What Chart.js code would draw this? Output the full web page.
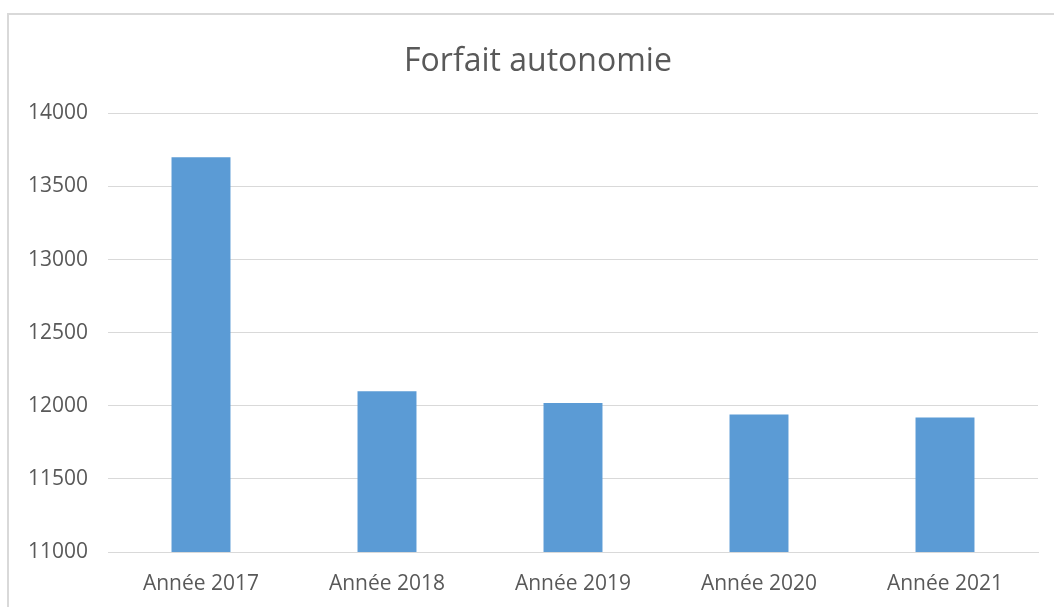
<!DOCTYPE html>
<html>
<head>
<meta charset="utf-8">
<script src="https://cdn.jsdelivr.net/npm/chart.js@4/dist/chart.umd.min.js"></script>
<style>
  html, body { margin: 0; padding: 0; background: #fff; overflow: hidden; }
  #frame { position: absolute; left: 7px; top: 13px; width: 1100px; height: 700px; border: 2px solid #d9d9d9; box-sizing: border-box; }
  #wrap { position: absolute; left: 0; top: 0; width: 1054px; height: 607px; }
</style>
</head>
<body>
<div id="frame"></div>
<div id="wrap"><canvas id="c" width="1054" height="607"></canvas></div>
<script>
const chartTitle = "Forfait autonomie";
const categories = ["Année 2017", "Année 2018", "Année 2019", "Année 2020", "Année 2021"];
const values = [13700, 12100, 12020, 11940, 11920];
const yMin = 11000, yMax = 14000, yStep = 500;

const textColor = "#595959";
const fontFamily = "'Open Sans', 'Liberation Sans', sans-serif";

const shiftTitle = {
  id: 'shiftTitle',
  afterLayout(chart) {
    const t = chart.titleBlock;
    if (t) { t.left += 9; t.right += 9; }
  }
};

new Chart(document.getElementById('c'), {
  type: 'bar',
  data: {
    labels: categories,
    datasets: [{
      data: values,
      backgroundColor: '#5b9bd5',
      borderWidth: 0,
      barPercentage: 0.317,
      categoryPercentage: 1.0
    }]
  },
  plugins: [shiftTitle],
  options: {
    responsive: false,
    animation: false,
    layout: { padding: { left: 20, right: 16, top: 0, bottom: 0 } },
    plugins: {
      legend: { display: false },
      tooltip: { enabled: false },
      title: {
        display: true,
        text: chartTitle,
        color: textColor,
        font: { family: fontFamily, size: 32, weight: 'normal' },
        padding: { top: 43, bottom: 32 }
      }
    },
    scales: {
      x: {
        grid: { display: false, drawTicks: false },
        border: { display: true, color: '#d9d9d9', width: 1 },
        ticks: { color: textColor, font: { family: fontFamily, size: 21 }, padding: 19, maxRotation: 0 },
        afterFit: (s) => { s.height = 55; }
      },
      y: {
        min: yMin, max: yMax,
        grid: { color: '#d9d9d9', drawTicks: false, lineWidth: 1 },
        border: { display: false },
        ticks: { stepSize: yStep, color: textColor, font: { family: fontFamily, size: 21 }, padding: 20,
                 callback: (v) => String(v) },
        afterFit: (s) => { s.width = 88; }
      }
    }
  }
});
</script>
</body>
</html>
